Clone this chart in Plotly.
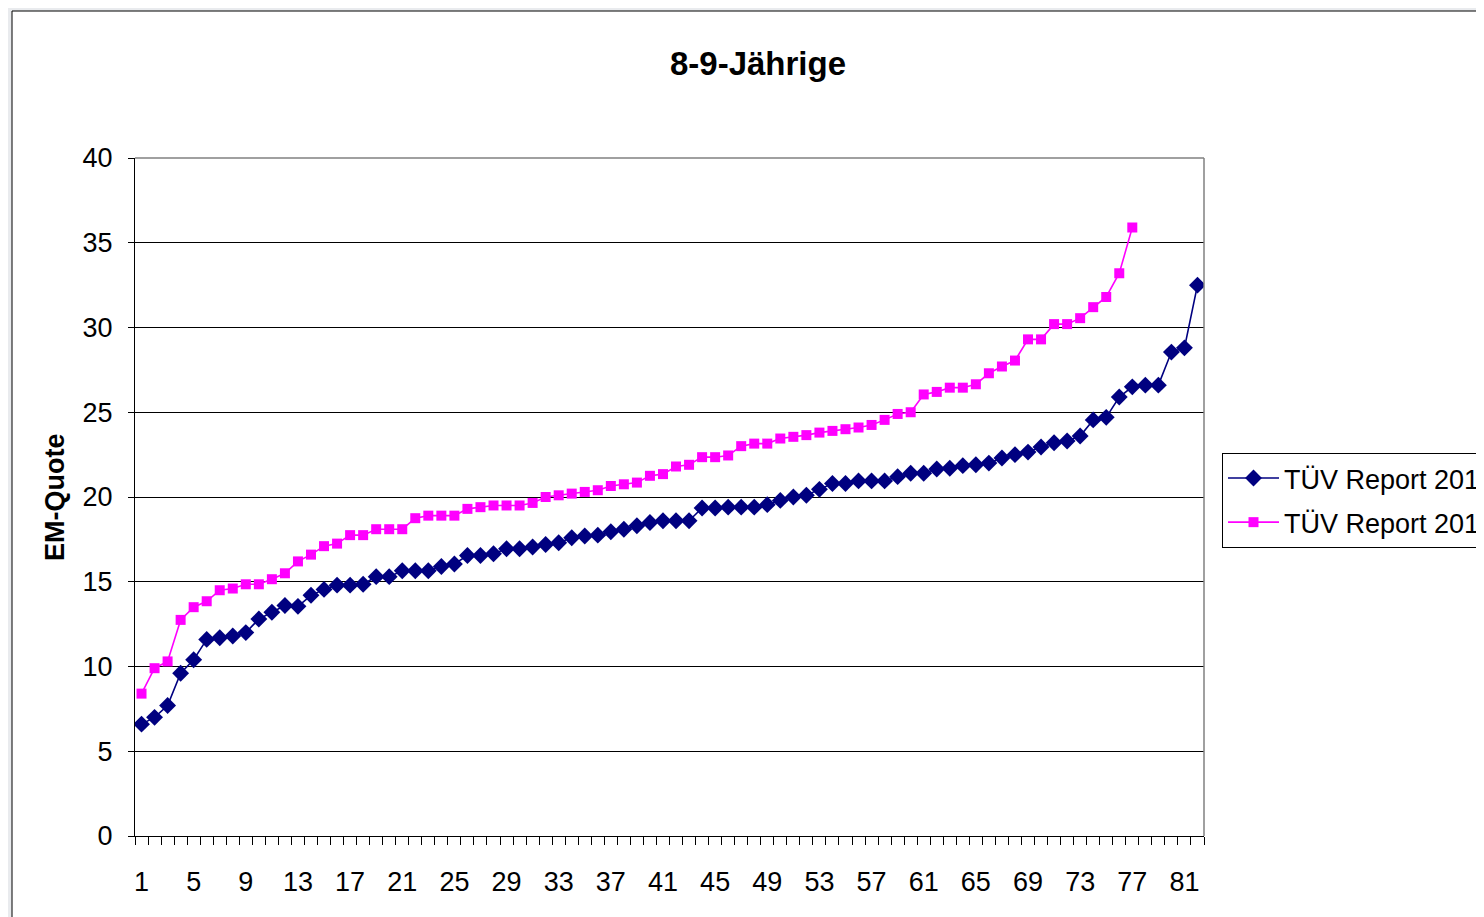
import plotly.graph_objects as go

categories = list(range(1, 83))

tuv_2010 = [
    6.6, 7.0, 7.7, 9.6, 10.4, 11.6, 11.7, 11.8, 12.0, 12.8,
    13.2, 13.6, 13.55, 14.2, 14.55, 14.8, 14.8, 14.85, 15.3, 15.3,
    15.65, 15.65, 15.65, 15.9, 16.05, 16.55, 16.55, 16.65, 16.95, 16.95,
    17.05, 17.2, 17.3, 17.6, 17.7, 17.75, 17.95, 18.1, 18.3, 18.5,
    18.6, 18.6, 18.6, 19.35, 19.35, 19.4, 19.4, 19.4, 19.55, 19.8,
    20.0, 20.1, 20.45, 20.8, 20.8, 20.95, 20.95, 20.95, 21.2, 21.4,
    21.4, 21.65, 21.7, 21.85, 21.9, 22.0, 22.3, 22.5, 22.65, 22.95,
    23.2, 23.3, 23.6, 24.55, 24.7, 25.9, 26.5, 26.6, 26.6, 28.55,
    28.8, 32.5,
]

tuv_2011 = [
    8.4, 9.9, 10.3, 12.75, 13.5, 13.85, 14.5, 14.6, 14.85, 14.85,
    15.15, 15.5, 16.2, 16.6, 17.1, 17.25, 17.75, 17.75, 18.1, 18.1,
    18.1, 18.75, 18.9, 18.9, 18.9, 19.3, 19.4, 19.5, 19.5, 19.5,
    19.65, 20.0, 20.1, 20.2, 20.3, 20.4, 20.65, 20.75, 20.85, 21.25,
    21.35, 21.8, 21.9, 22.35, 22.35, 22.45, 23.0, 23.15, 23.15, 23.45,
    23.55, 23.65, 23.8, 23.9, 24.0, 24.1, 24.25, 24.55, 24.9, 25.0,
    26.05, 26.2, 26.45, 26.45, 26.65, 27.3, 27.7, 28.05, 29.3, 29.3,
    30.2, 30.2, 30.55, 31.2, 31.8, 33.2, 35.9,
]

x_tick_values = [1, 5, 9, 13, 17, 21, 25, 29, 33, 37, 41, 45, 49, 53, 57, 61, 65, 69, 73, 77, 81]
x_tick_labels = [str(v) for v in x_tick_values]
y_tick_values = [0, 5, 10, 15, 20, 25, 30, 35, 40]

series_names = ["TÜV Report 2010", "TÜV Report 2011"]

FONT = "Liberation Sans, Arial, sans-serif"
OFF = 8  # page body margin
W, H = 1484 - OFF, 917 - OFF

fig = go.Figure()
fig.add_trace(go.Scatter(
    x=categories[:len(tuv_2010)], y=tuv_2010, name=series_names[0],
    mode="lines+markers", legendgroup="a",
    line=dict(color="#000080", width=1.6),
    marker=dict(symbol="diamond", size=13, color="#000080"),
))
fig.add_trace(go.Scatter(
    x=categories[:len(tuv_2011)], y=tuv_2011, name=series_names[1],
    mode="lines+markers", legendgroup="b",
    line=dict(color="#ff00ff", width=1.6),
    marker=dict(symbol="square", size=10, color="#ff00ff"),
))

minor_ticks = [c - 0.5 for c in categories] + [categories[-1] + 0.5]

fig.update_layout(
    width=W, height=H,
    margin=dict(l=135 - OFF, r=W - (1204 - OFF), t=158 - OFF, b=H - (836 - OFF), autoexpand=False),
    paper_bgcolor="#e9ebee",
    plot_bgcolor="#c0c0c0",
    font=dict(family=FONT, color="black", size=27),
    title=dict(text="<b>8-9-Jährige</b>", x=(758 - OFF) / W, xref="container", xanchor="center",
               y=1 - (63 - OFF) / H, yref="container", yanchor="middle",
               font=dict(size=33, family=FONT, color="black")),
    showlegend=True,
    legend=dict(x=(1222 - 135) / 1069, y=(836 - 453) / 678, xanchor="left", yanchor="top",
                bordercolor="#000000", borderwidth=1, bgcolor="white",
                itemwidth=51, tracegroupgap=6,
                font=dict(size=27, family=FONT)),
    xaxis=dict(
        range=[0.5, 82.5], tickmode="array", tickvals=x_tick_values, ticktext=x_tick_labels,
        ticks="outside", ticklen=1, tickcolor="rgba(0,0,0,0)", ticklabelstandoff=21,
        showgrid=False, zeroline=False, showline=True, linecolor="black", linewidth=1,
        tickfont=dict(size=27, family=FONT),
        minor=dict(tickmode="array", tickvals=minor_ticks, ticks="outside", ticklen=8,
                   tickcolor="black", showgrid=False),
    ),
    yaxis=dict(
        range=[0, 40], tickmode="array", tickvals=y_tick_values,
        ticks="outside", ticklen=6, tickcolor="black", ticklabelstandoff=10,
        showgrid=True, gridcolor="#000000", gridwidth=1, zeroline=False,
        showline=True, linecolor="black", linewidth=1,
        tickfont=dict(size=27, family=FONT),
    ),
    annotations=[dict(
        text="<b>EM-Quote</b>", textangle=-90, x=(55 - 135) / 1069, y=(836 - 497) / 678,
        xref="paper", yref="paper", xanchor="center", yanchor="middle", showarrow=False,
        font=dict(size=27, family=FONT, color="black"),
    )],
    shapes=[
        dict(type="rect", xref="paper", yref="paper", layer="below",
             x0=(12 - 135) / 1069, x1=(1520 - 135) / 1069,
             y0=(836 - 940) / 678, y1=(836 - 11) / 678,
             fillcolor="white", line=dict(color="black", width=1)),
        dict(type="line", xref="paper", yref="paper", layer="above",
             x0=0, x1=1, y0=1, y1=1, line=dict(color="#808080", width=1.5)),
        dict(type="line", xref="paper", yref="paper", layer="above",
             x0=1, x1=1, y0=0, y1=1, line=dict(color="#808080", width=1.5)),
    ],
)

fig.write_html("out.html")
